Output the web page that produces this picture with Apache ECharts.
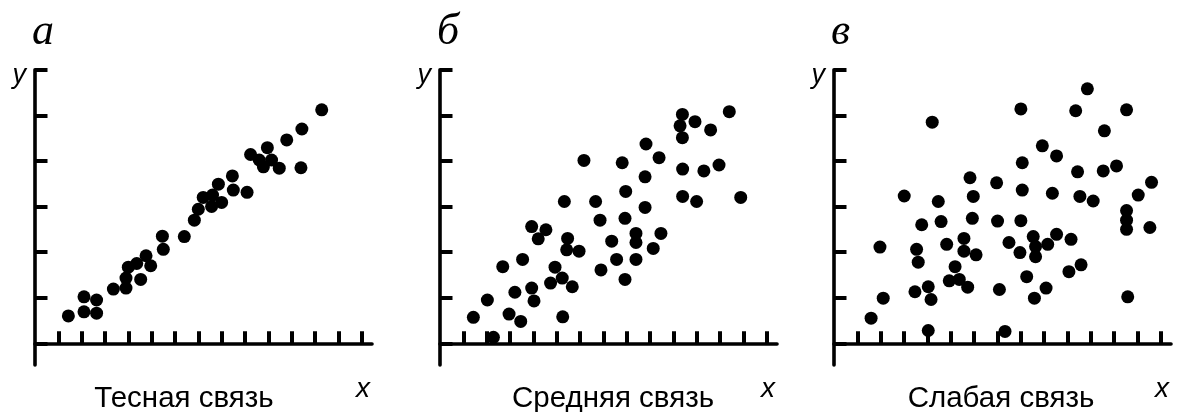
<!DOCTYPE html>
<html>
<head>
<meta charset="utf-8">
<script src="https://cdn.jsdelivr.net/npm/echarts@6/dist/echarts.min.js"></script>
<style>
html,body{margin:0;padding:0;background:#fff;}
#chart{width:1177px;height:412px;}
</style>
</head>
<body>
<div id="chart"></div>
<script>
// Panel titles and captions
const panelLetters = ['а', 'б', 'в'];
const captions = ['Тесная связь', 'Средняя связь', 'Слабая связь'];
const xTickValues = [1,2,3,4,5,6,7,8,9,10,11,12,13,14];
const yTickValues = [0,1,2,3,4,5,6];

// Panel а: close relationship
const closeData = [
  [1.43,0.60],[2.10,1.02],[2.10,0.69],[2.64,0.95],[2.64,0.66],[3.36,1.19],
  [3.90,1.21],[3.90,1.43],[4.00,1.67],[4.36,1.75],[4.53,1.40],[4.76,1.92],
  [4.96,1.70],[5.46,2.35],[5.50,2.06],[6.40,2.34],[6.83,2.70],[7.00,2.94],
  [7.21,3.20],[7.57,3.00],[7.61,3.25],[7.86,3.49],[8.00,3.09],[8.46,3.67],
  [8.50,3.36],[9.09,3.31],[9.24,4.14],[9.61,4.02],[9.79,3.87],[9.96,4.29],
  [10.14,4.02],[10.47,3.84],[10.79,4.46],[11.40,3.85],[11.44,4.70],[12.29,5.12]
];

// Panel б: medium relationship
const mediumData = [
  [1.43,0.57],[2.03,0.95],[2.29,0.13],[2.69,1.68],[2.96,0.64],[3.21,1.12],
  [3.46,0.48],[3.54,1.84],[3.93,2.56],[3.93,1.21],[4.03,0.93],[4.21,2.29],
  [4.54,2.49],[4.74,1.32],[4.93,1.67],[5.24,1.43],[5.26,0.58],[5.33,3.11],
  [5.47,2.30],[5.43,2.05],[5.67,1.24],[5.96,2.02],[6.17,4.01],[6.67,3.11],
  [6.86,2.70],[6.90,1.61],[7.36,2.24],[7.57,1.84],[7.81,3.96],[7.96,3.33],
  [7.93,2.74],[7.93,1.40],[8.40,2.41],[8.40,2.21],[8.40,1.84],[8.79,3.65],
  [8.79,2.98],[8.83,4.37],[9.14,2.08],[9.39,4.07],[9.47,2.41],[10.39,5.02],
  [10.29,4.77],[10.39,4.51],[10.40,3.82],[10.40,3.22],[10.93,4.86],[11.00,3.11],
  [11.31,3.78],[11.60,4.68],[11.96,3.91],[12.40,5.08],[12.89,3.20]
];

// Panel в: weak relationship
const weakData = [
  [1.59,0.55],[1.97,2.11],[2.11,0.99],[3.01,3.23],[3.47,1.13],[3.54,2.06],
  [3.61,1.78],[3.76,2.60],[4.04,1.24],[4.04,0.28],[4.16,0.96],[4.21,4.85],
  [4.47,3.11],[4.59,2.67],[4.83,2.17],[4.94,1.37],[5.19,1.68],[5.37,1.40],
  [5.57,2.30],[5.57,2.02],[5.73,1.23],[5.83,3.63],[5.93,2.74],[5.97,3.22],
  [6.09,1.94],[6.97,3.52],[7.01,2.68],[7.09,1.18],[7.33,0.26],[7.50,2.21],
  [7.97,1.99],[8.01,5.14],[8.07,3.96],[8.07,3.36],[8.01,2.69],[8.26,1.46],
  [8.54,2.34],[8.59,0.99],[8.64,2.12],[8.64,1.90],[8.93,4.33],[9.09,1.21],
  [9.16,2.17],[9.36,3.29],[9.54,4.11],[9.54,2.39],[10.07,1.57],[10.16,2.28],
  [10.36,5.10],[10.44,3.76],[10.54,3.22],[10.59,1.72],[10.86,5.58],[11.11,3.12],
  [11.59,4.66],[11.54,3.78],[12.11,3.89],[12.54,5.12],[12.54,2.91],[12.54,2.70],
  [12.54,2.50],[12.59,1.02],[13.04,3.25],[13.54,2.54],[13.61,3.53]
];

const seriesData = [closeData, mediumData, weakData];

// layout
const axisLefts = [35, 440, 834];
const gridWidth = 337;
const gridTop = 69.7;
const gridBottom = 47;
const xUnit = 23.33;
const yMin = -0.476, yMax = 6;

const chart = echarts.init(document.getElementById('chart'), null, {renderer: 'canvas'});

const grids = [], xAxes = [], yAxes = [], series = [], graphics = [];
const lineStyle = {color: '#000', width: 3.6, cap: 'round'};
const tickStyle = {color: '#000', width: 4};
for (let i = 0; i < 3; i++) {
  grids.push({left: axisLefts[i], width: gridWidth, top: gridTop, bottom: gridBottom, containLabel: false});
  xAxes.push({
    type: 'value', gridIndex: i, min: 0, max: gridWidth / xUnit,
    axisLine: {show: true, lineStyle: lineStyle},
    axisTick: {show: true, inside: true, length: 12, lineStyle: tickStyle, customValues: xTickValues},
    axisLabel: {show: false},
    splitLine: {show: false}
  });
  yAxes.push({
    type: 'value', gridIndex: i, min: yMin, max: yMax,
    axisLine: {show: true, lineStyle: lineStyle},
    axisTick: {show: true, inside: true, length: 12.5, lineStyle: tickStyle, customValues: yTickValues},
    axisLabel: {show: false},
    splitLine: {show: false}
  });
  series.push({
    type: 'scatter', xAxisIndex: i, yAxisIndex: i,
    data: seriesData[i], symbol: 'circle', symbolSize: 13,
    itemStyle: {color: '#000', opacity: 1}, silent: true, animation: false
  });
  const ax = axisLefts[i];
  graphics.push({
    type: 'text', left: ax - 3, top: 10,
    style: {text: panelLetters[i], font: 'italic 44px "Liberation Serif", serif', fill: '#000'}
  });
  graphics.push({
    type: 'text', x: ax - 9, y: 75,
    style: {text: 'y', font: 'italic 27px "Liberation Sans", Arial, sans-serif', fill: '#000', align: 'right', verticalAlign: 'middle'}
  });
  graphics.push({
    type: 'text', x: ax + 328, y: 389,
    style: {text: 'x', font: 'italic 28px "Liberation Sans", Arial, sans-serif', fill: '#000', align: 'center', verticalAlign: 'middle'}
  });
}
const captionCenters = [184, 613, 1001];
for (let i = 0; i < 3; i++) {
  graphics.push({
    type: 'text', x: captionCenters[i], y: 399,
    style: {text: captions[i], font: '29.5px "Liberation Sans", Arial, sans-serif', fill: '#000', align: 'center', verticalAlign: 'middle'}
  });
}

chart.setOption({
  backgroundColor: '#fff',
  animation: false,
  grid: grids,
  xAxis: xAxes,
  yAxis: yAxes,
  series: series,
  graphic: graphics
});
</script>
</body>
</html>
